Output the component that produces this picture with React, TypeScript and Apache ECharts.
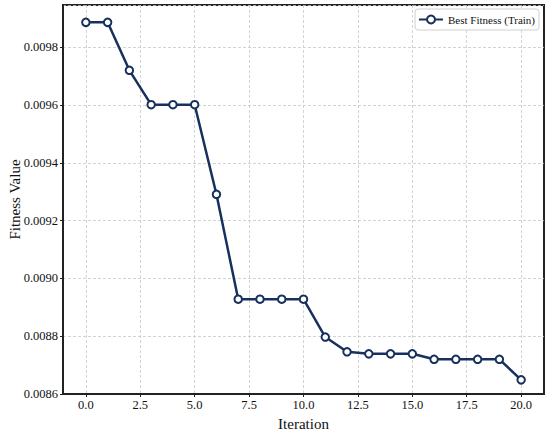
import React, { useEffect, useRef } from "react";
import * as echarts from "echarts";

const iterations = [0, 1, 2, 3, 4, 5, 6, 7, 8, 9, 10, 11, 12, 13, 14, 15, 16, 17, 18, 19, 20];
const bestFitness = [
  0.009886, 0.009886, 0.00972, 0.009601, 0.009601, 0.009601, 0.009291, 0.008928, 0.008928,
  0.008928, 0.008928, 0.008797, 0.008746, 0.008739, 0.008739, 0.008739, 0.00872, 0.00872,
  0.00872, 0.00872, 0.008649,
];
const xTicks = [0, 2.5, 5, 7.5, 10, 12.5, 15, 17.5, 20];
const seriesName = "Best Fitness (Train)";

const FONT = "Liberation Serif";
const NAVY = "#17305e";

export default function App() {
  const ref = useRef<HTMLDivElement>(null);
  useEffect(() => {
    document.body.style.margin = "0";
    if (!ref.current) return;
    const chart = echarts.init(ref.current, undefined, { renderer: "svg" });
    chart.setOption({
      animation: false,
      backgroundColor: "#ffffff",
      textStyle: { fontFamily: FONT },
      grid: {
        left: 63,
        right: 6,
        top: 5,
        bottom: 39,
        show: true,
        borderColor: "#222",
        borderWidth: 2,
        containLabel: false,
        outerBoundsMode: "none",
      },
      legend: {
        right: 11,
        top: 9,
        orient: "horizontal",
        backgroundColor: "#fff",
        borderColor: "#d0d0d0",
        borderWidth: 1,
        borderRadius: 3,
        padding: [5, 4, 5, 3],
        itemWidth: 24,
        itemHeight: 10,
        itemGap: 6,
        textStyle: { fontFamily: FONT, fontSize: 11, color: "#111" },
        data: [seriesName],
      },
      xAxis: {
        type: "value",
        min: -1.05,
        max: 21.05,
        name: "Iteration",
        nameLocation: "middle",
        nameGap: 22,
        nameMoveOverlap: false,
        nameTextStyle: { fontFamily: FONT, fontSize: 15, color: "#111" },
        axisLine: { show: true, onZero: false, lineStyle: { color: "#222", width: 2 } },
        axisTick: {
          show: true,
          inside: false,
          length: 3,
          customValues: xTicks,
          lineStyle: { color: "#222", width: 1 },
        },
        axisLabel: {
          customValues: xTicks,
          margin: 4,
          fontFamily: FONT,
          fontSize: 12.5,
          color: "#111",
          formatter: (v: number) => v.toFixed(1),
        },
        splitLine: {
          show: true,
          lineStyle: { color: "#c8c8c8", width: 0.8, type: [3, 2] },
        },
      },
      yAxis: {
        type: "value",
        min: 0.0086,
        max: 0.009946,
        interval: 0.0002,
        name: "Fitness Value",
        nameLocation: "middle",
        nameGap: 41,
        nameMoveOverlap: false,
        nameTextStyle: { fontFamily: FONT, fontSize: 15, color: "#111" },
        axisLine: { show: true, onZero: false, lineStyle: { color: "#222", width: 2 } },
        axisTick: { show: true, inside: false, length: 3, lineStyle: { color: "#222", width: 1 } },
        axisLabel: {
          margin: 5,
          fontFamily: FONT,
          fontSize: 12.5,
          color: "#111",
          showMaxLabel: false,
          formatter: (v: number) => v.toFixed(4),
        },
        splitLine: {
          show: true,
          lineStyle: { color: "#c8c8c8", width: 0.8, type: [3, 2] },
        },
      },
      series: [
        {
          name: seriesName,
          type: "line",
          data: iterations.map((x, i) => [x, bestFitness[i]]),
          symbol: "circle",
          symbolSize: 7.5,
          showAllSymbol: true,
          lineStyle: { color: NAVY, width: 2.5 },
          itemStyle: { color: "#ffffff", borderColor: NAVY, borderWidth: 2 },
          emphasis: { disabled: true },
          z: 5,
        },
      ],
    });
    return () => chart.dispose();
  }, []);
  return <div ref={ref} style={{ width: 550, height: 433 }} />;
}
